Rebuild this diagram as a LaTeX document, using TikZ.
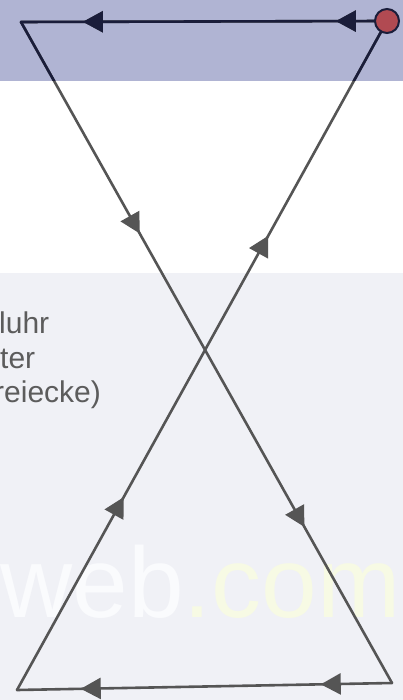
\documentclass[tikz,border=0pt]{standalone}
\usepackage{fontspec}
\setmainfont{Liberation Sans}
\usetikzlibrary{arrows.meta,decorations.markings}
\definecolor{bandtop}{HTML}{B7BBD8}
\definecolor{bandbot}{HTML}{A9ADCD}
\definecolor{lowbg}{HTML}{F0F1F6}
\definecolor{linegray}{HTML}{555555}
\definecolor{linenavy}{HTML}{1A1D3A}
\definecolor{dotred}{HTML}{B14A52}
\definecolor{txtgray}{HTML}{5C5C5C}
\definecolor{wmyellow}{HTML}{F7FAE4}
\definecolor{wmwhite}{HTML}{FAFBFD}
\newcommand\loopedges[1]{%
  \draw[edgeline,draw=#1,twoarrows={0.11}{0.825}] (C) -- (TL);
  \draw[edgeline,draw=#1,twoarrows={0.32}{0.764}] (TL) -- (BR);
  \draw[edgeline,draw=#1,twoarrows={0.19}{0.83}] (BR) -- (BL);
  \draw[edgeline,draw=#1,twoarrows={0.293}{0.69}] (BL) -- (C);
}
\begin{document}
\begin{tikzpicture}[x=1pt,y=-1pt,
  edgeline/.style={line width=2.6pt,line cap=round},
  twoarrows/.style 2 args={postaction={decorate},decoration={markings,
     mark=at position #1 with {\arrow{Triangle[length=20pt,width=21pt]}},
     mark=at position #2 with {\arrow{Triangle[length=20pt,width=21pt]}}}},
  txtline/.style={font=\fontsize{30}{35}\selectfont, text=txtgray, inner sep=0pt, anchor=base west},
  wmark/.style={font=\fontsize{100}{100}\selectfont, inner sep=0pt, anchor=base west},
]
\useasboundingbox (0,0) rectangle (403,700);
\clip (0,0) rectangle (403,700);
\fill[white] (0,0) rectangle (403,700);
\fill[bandtop!50!bandbot] (0,0) rectangle (403,81);
\fill[lowbg] (0,273) rectangle (403,700);
% watermark
\node[wmark] (wm) at (0,617) {\textcolor{wmwhite}{web}\textcolor{wmyellow}{.com}};
% text
\node[txtline] (t1) at (-1,333) {luhr};
\node[txtline] (t2) at (0,368) {ter};
\node[txtline] (t3) at (-6,402) {reiecke)};
% points
\coordinate (TL) at (21,22);
\coordinate (BR) at (392,683);
\coordinate (BL) at (17,690);
\node[circle,minimum size=24pt,inner sep=0pt] (C) at (387,21) {};
\loopedges{linegray}
\begin{scope}
  \clip (0,0) rectangle (403,81);
  \loopedges{linenavy}
\end{scope}
\draw[fill=dotred,draw=linenavy,line width=2pt] (C.center) circle (12pt);
\end{tikzpicture}
\end{document}
